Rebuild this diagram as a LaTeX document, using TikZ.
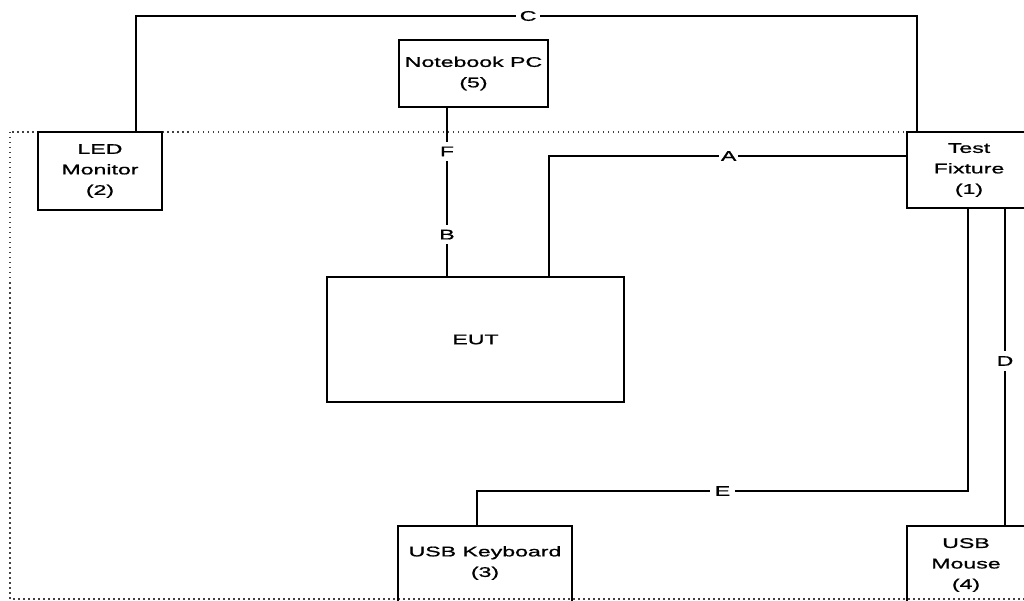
\documentclass[tikz,border=0pt]{standalone}
\usepackage{fontspec}
\newfontfamily\diafont[FakeStretch=1.65,FakeBold=1]{Liberation Sans}
\begin{document}
\begin{tikzpicture}[x=1pt,y=-1pt,
  boxtext/.style={rectangle,inner sep=0pt,align=center,
    font=\diafont\fontsize{14}{20.5}\selectfont},
  box/.style={boxtext,draw,line width=1.6pt},
  wire/.style={line width=1.6pt},
  lbl/.style={fill=white,inner sep=4pt,font=\diafont\fontsize{14}{16}\selectfont},
  frame/.style={line width=1.5pt,dash pattern=on 1.5pt off 3.5pt,black!75}]
\useasboundingbox (0,0) rectangle (1024,601);
\fill[white] (0,0) rectangle (1024,601);
% dotted enclosure
\draw[frame] (10,132) rectangle (1060,599);
% nodes
\node[box,minimum width=124,minimum height=78] (led) at (100,171) {LED\\Monitor\\(2)};
\node[box,minimum width=149,minimum height=67] (nb) at (473.5,73.5) {Notebook PC\\(5)};
\node[box,minimum width=124,minimum height=76,fill=white] (tf) at (969,170) {Test\\Fixture\\(1)};
\node[box,minimum width=297,minimum height=125] (eut) at (475.5,339.5) {EUT};
\node[boxtext,minimum width=174,minimum height=74] (kb) at (485,563) {USB Keyboard\\(3)};
\node[boxtext,minimum width=118,minimum height=78] (ms) at (966,565) {USB\\Mouse\\(4)};
% open-bottom outlines of the boxes cut by the picture edge
\draw[wire] ([yshift=-12]kb.south west) |- (kb.north east) -- ([yshift=-12]kb.south east);
\draw[wire] ([yshift=-12]ms.south west) |- (ms.north east) -- ([yshift=-12]ms.south east);
% helper coordinates
\coordinate (ctop) at (0,16);
\coordinate (ey) at (0,491);
\coordinate (ledc) at (136,0);
\coordinate (tfc) at (917,0);
\coordinate (fx) at (447,0);
\coordinate (ax) at (549,156);
\coordinate (ex) at (968,0);
\coordinate (kx) at (477,0);
\coordinate (dx) at (1005,0);
% C
\draw[wire] (led.north -| ledc) -- (ledc |- ctop)
  -- node[lbl,pos=0.502] (lc) {C} (tfc |- ctop) -- (tf.north -| tfc);
% F / B
\draw[wire] (nb.south -| fx) -- node[lbl,pos=0.259,inner sep=5pt] (lf) {F}
  node[lbl,pos=0.753,inner sep=5pt] (lb) {B} (eut.north -| fx);
% A
\draw[wire] (tf.west |- ax) -- node[lbl,pos=0.497,inner sep=1.5pt] (la) {A} (ax) -- (eut.north -| ax);
% E
\draw[wire] (tf.south -| ex) -- (ex |- ey) -- node[lbl,pos=0.5,inner sep=5pt] (le) {E} (kx |- ey) -- (kb.north -| kx);
% D
\draw[wire] (tf.south -| dx) -- node[lbl,pos=0.48,inner sep=5pt] (ld) {D} (ms.north -| dx);
\end{tikzpicture}
\end{document}
